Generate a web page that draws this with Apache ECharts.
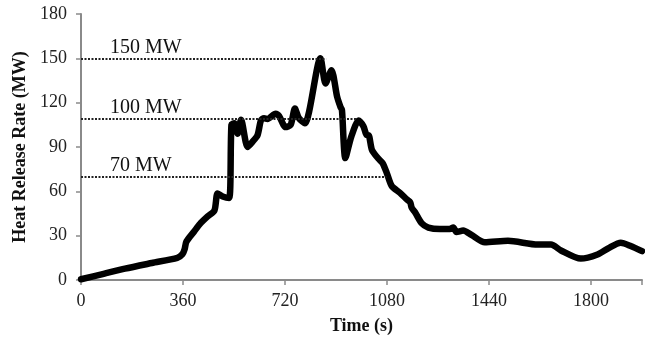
<!DOCTYPE html>
<html>
<head>
<meta charset="utf-8">
<script src="https://cdn.jsdelivr.net/npm/echarts@6/dist/echarts.min.js"></script>
<style>
  html, body { margin: 0; padding: 0; background: #fff; }
  #chart { width: 645px; height: 340px; }
</style>
</head>
<body>
<div id="chart"></div>
<script>
// heat release curve
const times = [0, 80, 155, 250, 340, 358, 366, 372, 400, 420, 447, 471, 482, 500, 523,
  531, 541, 553, 565, 588, 605, 623, 635, 646, 658, 687, 699, 722, 740, 755, 769, 790,
  845, 863, 884, 904, 916, 921, 933, 954, 980, 997, 1009, 1015, 1027, 1050, 1065, 1080,
  1097, 1126, 1150, 1162, 1167, 1180, 1202, 1226, 1267, 1302, 1314, 1325, 1349, 1378,
  1425, 1507, 1612, 1647, 1659, 1694, 1764, 1823, 1864, 1905, 1940, 1980];
const hrr = [0.5, 4.2, 7.7, 11.5, 15, 17.5, 21, 26, 33, 38, 43, 47, 58.5, 56.5, 55.5,
  105, 106, 99, 108.5, 90, 93.5, 98, 108, 109.5, 109, 112.5, 111, 103.5, 105, 116, 109.5, 106,
  150, 133, 142, 124, 117, 115, 82.5, 97, 108, 104, 98, 98, 88, 82, 79, 72,
  63.5, 59, 54.5, 52.5, 49, 45.5, 38.5, 35.5, 34.5, 34.5, 35.5, 32.5, 33.5, 30.5,
  25.5, 26.5, 24, 24, 24, 20, 14.5, 17.3, 21.8, 25.2, 23, 19.5];

// dotted reference levels
const refLabels = ["150 MW", "100 MW", "70 MW"];
const refLevels = [150, 109, 70];
const refEnds = [865, 975, 1078];

const xTicks = [0, 360, 720, 1080, 1440, 1800];

const serif = "'Liberation Serif', 'Times New Roman', serif";
const axisGray = "#8a8a8a";

const chart = echarts.init(document.getElementById("chart"));

chart.setOption({
  animation: false,
  grid: { left: 81, right: 0, top: 14, bottom: 59 },
  xAxis: {
    type: "value",
    min: 0,
    max: 1980,
    interval: 360,
    name: "Time (s)",
    nameLocation: "middle",
    nameGap: 37,
    nameTextStyle: { fontFamily: serif, fontWeight: "bold", fontSize: 18, color: "#111" },
    axisLine: { lineStyle: { color: axisGray, width: 2 } },
    axisTick: { show: true, length: 5, lineStyle: { color: axisGray, width: 1.5 } },
    axisLabel: {
      fontFamily: serif, fontSize: 18, color: "#222", margin: 12,
      formatter: (v) => (xTicks.includes(v) ? String(v) : ""),
    },
    splitLine: { show: false },
  },
  yAxis: {
    type: "value",
    min: 0,
    max: 180,
    interval: 30,
    name: "Heat Release Rate (MW)",
    nameLocation: "middle",
    nameGap: 46,
    nameTextStyle: { fontFamily: serif, fontWeight: "bold", fontSize: 18, color: "#111" },
    axisLine: { show: true, lineStyle: { color: axisGray, width: 2 } },
    axisTick: { show: true, length: 5, lineStyle: { color: axisGray, width: 1.5 } },
    axisLabel: { fontFamily: serif, fontSize: 18, color: "#222", margin: 14 },
    splitLine: { show: false },
  },
  series: [
    {
      type: "line",
      data: times.map((t, i) => [t, hrr[i]]),
      showSymbol: false,
      smooth: 0.25,
      lineStyle: { color: "#000", width: 6.5, join: "round", cap: "round" },
      z: 3,
    },
    {
      type: "line",
      data: [],
      markLine: {
        silent: true,
        symbol: "none",
        lineStyle: { color: "#222", width: 2, type: [2, 1.5] },
        label: {
          show: true,
          position: "insideStartTop",
          distance: [29, 1],
          fontFamily: serif,
          fontSize: 20,
          color: "#111",
          formatter: (p) => p.name,
        },
        data: refLevels.map((lv, i) => [
          { name: refLabels[i], coord: [0, lv] },
          { coord: [refEnds[i], lv] },
        ]),
      },
      z: 2,
    },
  ],
});
</script>
</body>
</html>
